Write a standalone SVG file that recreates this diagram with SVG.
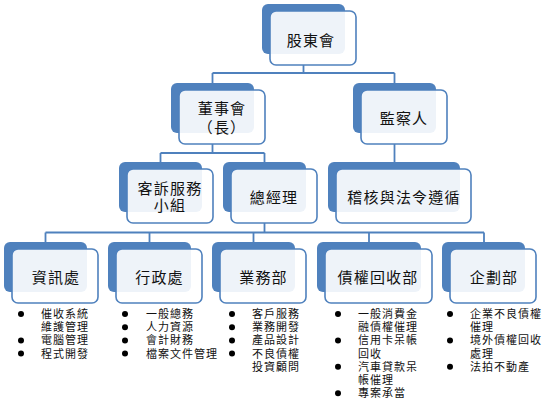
<svg xmlns="http://www.w3.org/2000/svg" width="558" height="412" viewBox="0 0 558 412">
<style>
.bk{fill:#4F81BD;}
.fr{fill:#FFFFFF;fill-opacity:0.9;stroke:#4F81BD;stroke-width:1.6;}
.t{font-family:"Liberation Sans","Noto Sans CJK TC","Noto Sans CJK SC",sans-serif;font-size:15px;fill:#111;text-anchor:middle;letter-spacing:1.2px;}
.l{font-family:"Liberation Sans","Noto Sans CJK TC","Noto Sans CJK SC",sans-serif;font-size:11px;fill:#111;letter-spacing:1px;}
.c{fill:none;stroke:#4F81BD;stroke-width:1.8;}
.b{fill:#000;}
</style>
<rect width="558" height="412" fill="#FFFFFF"/>
<g id="connectors">
<path class="c" d="M303.5 65 V73 M212.5 73 H394.5 M212.5 73 V83 M394.5 73 V83"/>
<path class="c" d="M212.5 144 V153 M160.5 153 H264.5 M160.5 153 V162 M264.5 153 V162"/>
<path class="c" d="M394.5 144 V162"/>
<path class="c" d="M264.5 223 V232.5 M45.5 232.5 H484 M45.5 232.5 V242 M149.5 232.5 V242 M253.5 232.5 V242 M369 232.5 V242 M484 232.5 V242"/>
</g>
<g id="n-gudong">
<rect class="bk" x="262" y="4" width="83" height="50" rx="6"/>
<rect class="fr" x="270" y="11" width="86" height="54" rx="6"/>
<text class="t" x="311" y="45.5">股東會</text>
</g>
<g id="n-dongshi">
<rect class="bk" x="171" y="83" width="83" height="50" rx="6"/>
<rect class="fr" x="179" y="90" width="86" height="54" rx="6"/>
<text class="t" x="222" y="113.5">董事會</text>
<text class="t" x="222" y="132.5">（長）</text>
</g>
<g id="n-jiancha">
<rect class="bk" x="353" y="83" width="83" height="50" rx="6"/>
<rect class="fr" x="361" y="90" width="86" height="54" rx="6"/>
<text class="t" x="404" y="123.5">監察人</text>
</g>
<g id="n-kesu">
<rect class="bk" x="119" y="162" width="83" height="50" rx="6"/>
<rect class="fr" x="127" y="169" width="86" height="54" rx="6"/>
<text class="t" x="170" y="193.5">客訴服務</text>
<text class="t" x="170" y="211">小組</text>
</g>
<g id="n-zongjingli">
<rect class="bk" x="223" y="162" width="83" height="50" rx="6"/>
<rect class="fr" x="231" y="169" width="86" height="54" rx="6"/>
<text class="t" x="274" y="202.5">總經理</text>
</g>
<g id="n-jihe">
<rect class="bk" x="328" y="162" width="132" height="50" rx="6"/>
<rect class="fr" x="336" y="169" width="135" height="54" rx="6"/>
<text class="t" x="404" y="202.5">稽核與法令遵循</text>
</g>
<g id="n-zixun">
<rect class="bk" x="4" y="242" width="83" height="50" rx="6"/>
<rect class="fr" x="12" y="249" width="86" height="54" rx="6"/>
<text class="t" x="56" y="282.5">資訊處</text>
<circle class="b" cx="21" cy="314" r="3"/>
<circle class="b" cx="21" cy="340.4" r="3"/>
<circle class="b" cx="21" cy="353.6" r="3"/>
<text class="l" x="41" y="318">催收系統</text>
<text class="l" x="41" y="331.2">維護管理</text>
<text class="l" x="41" y="344.4">電腦管理</text>
<text class="l" x="41" y="357.6">程式開發</text>
</g>
<g id="n-xingzheng">
<rect class="bk" x="108" y="242" width="83" height="50" rx="6"/>
<rect class="fr" x="116" y="249" width="86" height="54" rx="6"/>
<text class="t" x="159.5" y="282.5">行政處</text>
<circle class="b" cx="125" cy="314" r="3"/>
<circle class="b" cx="125" cy="327.2" r="3"/>
<circle class="b" cx="125" cy="340.4" r="3"/>
<circle class="b" cx="125" cy="353.6" r="3"/>
<text class="l" x="146" y="318">一般總務</text>
<text class="l" x="146" y="331.2">人力資源</text>
<text class="l" x="146" y="344.4">會計財務</text>
<text class="l" x="146" y="357.6">檔案文件管理</text>
</g>
<g id="n-yewu">
<rect class="bk" x="212" y="242" width="83" height="50" rx="6"/>
<rect class="fr" x="220" y="249" width="86" height="54" rx="6"/>
<text class="t" x="263.5" y="282.5">業務部</text>
<circle class="b" cx="232" cy="314" r="3"/>
<circle class="b" cx="232" cy="327.2" r="3"/>
<circle class="b" cx="232" cy="340.4" r="3"/>
<circle class="b" cx="232" cy="353.6" r="3"/>
<text class="l" x="252" y="318">客戶服務</text>
<text class="l" x="252" y="331.2">業務開發</text>
<text class="l" x="252" y="344.4">產品設計</text>
<text class="l" x="252" y="357.6">不良債權</text>
<text class="l" x="252" y="370.8">投資顧問</text>
</g>
<g id="n-zhaiquan">
<rect class="bk" x="317" y="242" width="104" height="50" rx="6"/>
<rect class="fr" x="325" y="249" width="107" height="54" rx="6"/>
<text class="t" x="378" y="282.5">債權回收部</text>
<circle class="b" cx="338" cy="314" r="3"/>
<circle class="b" cx="338" cy="340.4" r="3"/>
<circle class="b" cx="338" cy="366.8" r="3"/>
<circle class="b" cx="338" cy="393.2" r="3"/>
<text class="l" x="358" y="318">一般消費金</text>
<text class="l" x="358" y="331.2">融債權催理</text>
<text class="l" x="358" y="344.4">信用卡呆帳</text>
<text class="l" x="358" y="357.6">回收</text>
<text class="l" x="358" y="370.8">汽車貸款呆</text>
<text class="l" x="358" y="384">帳催理</text>
<text class="l" x="358" y="397.2">專案承當</text>
</g>
<g id="n-qihua">
<rect class="bk" x="442" y="242" width="83" height="50" rx="6"/>
<rect class="fr" x="450" y="249" width="86" height="54" rx="6"/>
<text class="t" x="494" y="282.5">企劃部</text>
<circle class="b" cx="450" cy="314" r="3"/>
<circle class="b" cx="450" cy="340.4" r="3"/>
<circle class="b" cx="450" cy="366.8" r="3"/>
<text class="l" x="470" y="318">企業不良債權</text>
<text class="l" x="470" y="331.2">催理</text>
<text class="l" x="470" y="344.4">境外債權回收</text>
<text class="l" x="470" y="357.6">處理</text>
<text class="l" x="470" y="370.8">法拍不動產</text>
</g>
</svg>
